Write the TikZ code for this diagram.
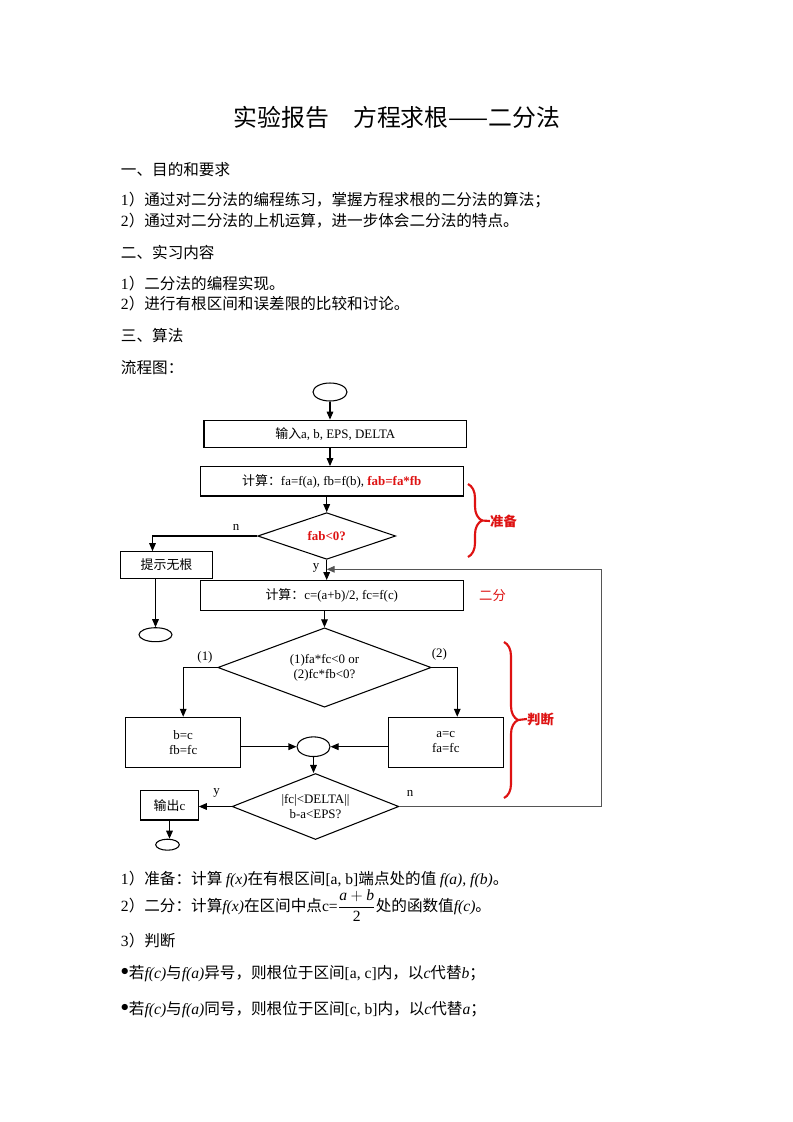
\documentclass[tikz,border=0pt]{standalone}
\usepackage{fontspec}
\setmainfont{Liberation Serif}
\newfontfamily\cjk{Noto Sans CJK SC}
\usetikzlibrary{shapes.geometric, arrows.meta, positioning, calc, decorations.pathreplacing}

\definecolor{tagred}{RGB}{222,18,18}
\definecolor{loopgray}{RGB}{85,85,85}
\newcommand\zh[1]{{\cjk #1}}
\newcommand\en[1]{{\rmfamily #1}}
\newcommand\fx[1]{{\rmfamily\itshape #1}}
\newcommand\flowfont{\fontsize{9.7}{11.5}\selectfont}
\newcommand\bodyfont{\cjk\fontsize{11.7}{14}\selectfont}

\tikzset{
	box/.style={draw, line width=0.8pt, rectangle, inner sep=0pt, align=center, font=\flowfont},
	dec/.style={draw, line width=0.8pt, diamond, inner sep=0pt},
	term/.style={draw, line width=0.8pt, ellipse, inner sep=0pt},
	arr/.style={line width=0.8pt, -{Triangle[length=6pt,width=5pt]}},
	lbl/.style={inner sep=0pt, font=\flowfont},
	txt/.style={anchor=west, inner sep=0pt, font=\bodyfont},
	tag/.style={inner sep=0pt, text=tagred, font=\cjk\bfseries\fontsize{10}{12}\selectfont},
	brc/.style={draw=tagred, line width=1.6pt, decorate, decoration={brace, amplitude=10.5pt}}
}

\begin{document}
\begin{tikzpicture}[x=0.75pt, y=-0.75pt]
	\path[fill=white] (0,0) rectangle (793,1122);
	\useasboundingbox (0,0) rectangle (793,1122);

	% text above the chart
	\node[inner sep=0pt, font=\cjk\fontsize{17.9}{21}\selectfont] (title) at (397,117) {实验报告　方程求根——二分法};
	\node[txt] (aim) at (120.7,169.3) {一、目的和要求};
	\node[txt] (aim1) at (120.7,200) {\en{1}）通过对二分法的编程练习，掌握方程求根的二分法的算法；};
	\node[txt] (aim2) at (120.7,221) {\en{2}）通过对二分法的上机运算，进一步体会二分法的特点。};
	\node[txt] (work) at (120.7,252.7) {二、实习内容};
	\node[txt] (work1) at (120.7,283.3) {\en{1}）二分法的编程实现。};
	\node[txt] (work2) at (120.7,303.3) {\en{2}）进行有根区间和误差限的比较和讨论。};
	\node[txt] (algo) at (120.7,335.7) {三、算法};
	\node[txt] (chart) at (120.7,368) {流程图：};

	% chart nodes
	\node[term, minimum width=25.5pt, minimum height=13.5pt] (start) at (330,392) {};
	\node[box, minimum width=197pt, minimum height=20.8pt] (input) at (335.3,434) {\zh{输入}a, b, EPS, DELTA};
	\node[box, minimum width=197.3pt, minimum height=22pt] (calcab) at (331.8,481.3) {\zh{计算：}fa=f(a), fb=f(b), \textcolor{tagred}{\bfseries fab=fa*fb}};
	\node[dec, minimum width=103.5pt, minimum height=35pt,
		label={[lbl]center:\textcolor{tagred}{\bfseries fab<0?}}] (chk1) at (326.7,536) {};
	\node[box, minimum width=68.7pt, minimum height=20pt] (noroot) at (166.5,565) {\zh{提示无根}};
	\node[term, minimum width=24.75pt, minimum height=10.5pt] (end1) at (155.5,634.7) {};
	\node[box, minimum width=197.3pt, minimum height=22.1pt] (calcc) at (331.8,595.3) {\zh{计算：}c=(a+b)/2, fc=f(c)};
	\node[dec, minimum width=160pt, minimum height=59.5pt,
		label={[lbl, align=center]center:{(1)fa*fc<0 or\\(2)fc*fb<0?}}] (chk2) at (324.5,667.5) {};
	\node[box, minimum width=86.25pt, minimum height=37.5pt] (setb) at (183.2,742.3) {b=c\\fb=fc};
	\node[box, minimum width=86.25pt, minimum height=37.5pt] (seta) at (445.8,742.3) {a=c\\fa=fc};
	\node[term, minimum width=24.75pt, minimum height=14.75pt] (merge) at (313.5,746.7) {};
	\node[dec, minimum width=125pt, minimum height=49.5pt,
		label={[lbl, align=center]center:{|fc|<DELTA||\\b-a<EPS?}}] (chk3) at (315.5,806.5) {};
	\node[box, minimum width=43.2pt, minimum height=22pt] (out) at (169.5,805.3) {\zh{输出}c};
	\node[term, minimum width=17.7pt, minimum height=8.25pt] (end2) at (167.5,844.7) {};

	% branch labels
	\node[lbl] (n1) at (236,527) {n};
	\node[lbl] (y1) at (316,568) {y};
	\node[lbl] (c1) at (205,657.7) {(1)};
	\node[lbl] (c2) at (439.3,654.3) {(2)};
	\node[lbl] (y2) at (216.7,793.3) {y};
	\node[lbl] (n2) at (410,793.3) {n};

	% connectors
	\draw[arr] (start.south) -- (start.south |- input.north);
	\draw[arr] (input.south -| start) -- (calcab.north -| start);
	\draw[arr] (calcab.south -| chk1.north) -- (chk1.north);
	\draw[arr] (chk1.west) -| ([xshift=-10.5pt]noroot.north);
	\draw[arr] (end1.north |- noroot.south) -- (end1.north);
	\draw[arr] (chk1.south) -- (chk1.south |- calcc.north);
	\draw[arr] (calcc.south -| chk2.north) -- (chk2.north);
	\draw[arr] (chk2.west) -| (setb.north);
	\draw[arr] (chk2.east) -| ([xshift=8.6pt]seta.north);
	\draw[arr] (setb.east |- merge.west) -- (merge.west);
	\draw[arr] (seta.west |- merge.east) -- (merge.east);
	\draw[arr] (merge.south) -- (merge.south |- chk3.north);
	\draw[arr] (chk3.west) -- (chk3.west -| out.east);
	\draw[arr] (out.south) -- (out.south |- end2.north);
	\coordinate (loopr) at (601.7,569.3);
	\draw[arr, draw=loopgray] (chk3.east) -| (loopr) -- (loopr -| chk1.south);

	% red notes
	\node[tag] (prep) at (503.5,521) {准备};
	\draw[brc] (468,484) -- (468,557);
	\coordinate (preptip) at (482,520.5);
	\draw[draw=tagred, line width=1.6pt] (preptip) -- (prep.west);
	\node[tag, font=\cjk\fontsize{10}{12}\selectfont] (half) at (492.5,596) {二分};
	\node[tag] (judge) at (540.5,719) {判断};
	\draw[brc] (504,642) -- (504,798);
	\coordinate (judgetip) at (518,720);
	\draw[draw=tagred, line width=1.6pt] (judgetip) -- (judge.west);

	% text below the chart
	\node[txt] (step1) at (120.7,879) {\en{1}）准备：计算 \fx{f(x)}在有根区间\en{[a, b]}端点处的值 \fx{f(a), f(b)}。};
	\node[txt, anchor=base west] (step2) at (120.7,911) {\en{2}）二分：计算\fx{f(x)}在区间中点\en{c=}$\displaystyle\frac{\mbox{\fx{a}}+\mbox{\fx{b}}}{\mbox{\en{2}}}$处的函数值\fx{f(c)}。};
	\node[txt] (step3) at (120.7,940.5) {\en{3}）判断};
	\node[txt] (case1) at (120.7,974) {\raisebox{2.5pt}{$\bullet$}若\fx{f(c)}与\fx{f(a)}异号，则根位于区间\en{[a, c]}内，以\fx{c}代替\fx{b}；};
	\node[txt] (case2) at (120.7,1010) {\raisebox{2.5pt}{$\bullet$}若\fx{f(c)}与\fx{f(a)}同号，则根位于区间\en{[c, b]}内，以\fx{c}代替\fx{a}；};
\end{tikzpicture}
\end{document}
